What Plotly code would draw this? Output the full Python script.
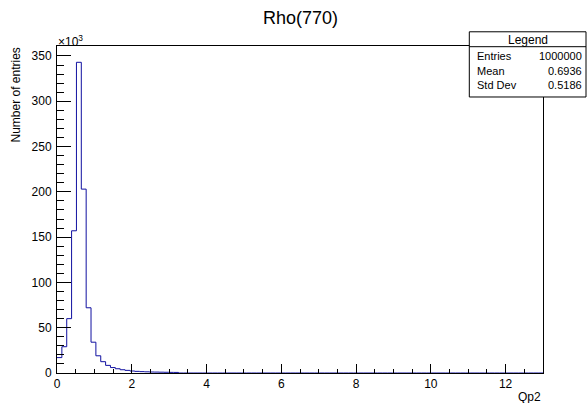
import plotly.graph_objects as go

# ---- data ----
n_bins = 100
x_min, x_max = 0.0, 13.0
counts = [17000, 29000, 60000, 157000, 343000, 203000, 72000, 34000, 19000, 12500,
          8400, 6000, 4700, 3600, 2900, 2200, 1800, 1500, 1300, 1100,
          1000, 900, 800, 700, 650] + [0] * 75
y_tickvals = [0, 50000, 100000, 150000, 200000, 250000, 300000, 350000]
y_ticktext = ["0", "50", "100", "150", "200", "250", "300", "350"]
x_tickvals = [0, 2, 4, 6, 8, 10, 12]
x_ticktext = ["0", "2", "4", "6", "8", "10", "12"]
stats_labels = ["Entries", "Mean", "Std Dev"]
stats_values = ["1000000", "0.6936", "0.5186"]

# ---- geometry ----
W, H = 588, 403
ML, MR, MT, MB = 57, 45, 46, 28
PW, PH = W - ML - MR, H - MT - MB
FONT = "Liberation Sans, Arial, Helvetica, sans-serif"


def px(x):
    return (x - ML) / PW


def py(y):
    return (H - MB - y) / PH


width = (x_max - x_min) / n_bins
edges = [x_min + i * width for i in range(n_bins + 1)]
xs = edges
ys = counts + [counts[-1]]

fig = go.Figure()
fig.add_trace(go.Scatter(x=xs, y=ys, mode="lines", line=dict(color="#1010a0", width=1, shape="hv"),
                         hoverinfo="skip", showlegend=False))

fig.update_layout(
    width=W, height=H,
    margin=dict(l=ML, r=MR, t=MT, b=MB, pad=0),
    paper_bgcolor="white", plot_bgcolor="white",
    font=dict(family=FONT, size=12, color="black"),
    showlegend=False,
    xaxis=dict(range=[x_min, x_max], showgrid=False, zeroline=False,
               showline=True, linecolor="black", linewidth=1, mirror=True,
               ticks="inside", ticklen=9, tickcolor="black", tickwidth=1,
               tickmode="array", tickvals=x_tickvals, ticktext=x_ticktext,
               tickfont=dict(size=12, family=FONT, color="black"),
               minor=dict(ticks="inside", ticklen=4.5, dtick=0.5, tick0=0,
                          tickcolor="black", tickwidth=1, showgrid=False)),
    yaxis=dict(range=[0, 361000], showgrid=False, zeroline=False,
               showline=True, linecolor="black", linewidth=1, mirror=True,
               ticks="inside", ticklen=14, tickcolor="black", tickwidth=1,
               tickmode="array", tickvals=y_tickvals, ticktext=y_ticktext,
               tickfont=dict(size=12, family=FONT, color="black"),
               ticklabelstandoff=2,
               minor=dict(ticks="inside", ticklen=7, dtick=10000, tick0=0,
                          tickcolor="black", tickwidth=1, showgrid=False)),
)

ann = []
# title
ann.append(dict(text="Rho(770)", x=px(300), y=py(18), xref="paper", yref="paper",
                xanchor="center", yanchor="middle", showarrow=False,
                font=dict(size=18, family=FONT, color="black")))
# y axis title
ann.append(dict(text="Number of entries", x=px(15), y=py(46), xref="paper", yref="paper",
                xanchor="center", yanchor="top", textangle=-90, showarrow=False,
                font=dict(size=12, family=FONT, color="black")))
# x axis title
ann.append(dict(text="Qp2", x=px(543), y=py(399), xref="paper", yref="paper",
                xanchor="right", yanchor="middle", showarrow=False,
                font=dict(size=12, family=FONT, color="black")))
# exponent
ann.append(dict(text="×10<sup>3</sup>", x=px(56), y=py(41), xref="paper", yref="paper",
                xanchor="left", yanchor="middle", showarrow=False,
                font=dict(size=12, family=FONT, color="black")))

# stats box
bx0, bx1, by0, by1, bsep = 469.3, 586, 31.7, 97.3, 46.7
shapes = [
    dict(type="rect", xref="paper", yref="paper", x0=px(bx0), x1=px(bx1), y0=py(by1), y1=py(by0),
         line=dict(color="black", width=1), fillcolor="white", layer="above"),
    dict(type="line", xref="paper", yref="paper", x0=px(bx0), x1=px(bx1), y0=py(bsep), y1=py(bsep),
         line=dict(color="black", width=1), layer="above"),
]
ann.append(dict(text="Legend", x=px((bx0 + bx1) / 2), y=py(39.5), xref="paper", yref="paper",
                xanchor="center", yanchor="middle", showarrow=False,
                font=dict(size=12, family=FONT, color="black")))
row_y = [56, 71, 85.3]
for lab, val, ry in zip(stats_labels, stats_values, row_y):
    ann.append(dict(text=lab, x=px(474.5), y=py(ry), xref="paper", yref="paper",
                    xanchor="left", yanchor="middle", showarrow=False,
                    font=dict(size=11, family=FONT, color="black")))
    ann.append(dict(text=val, x=px(584), y=py(ry), xref="paper", yref="paper",
                    xanchor="right", yanchor="middle", showarrow=False,
                    font=dict(size=11, family=FONT, color="black")))

fig.update_layout(annotations=ann, shapes=shapes)
fig.write_html("out.html")
